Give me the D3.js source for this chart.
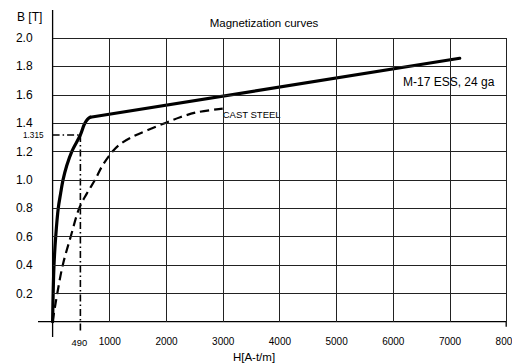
<!DOCTYPE html>
<html>
<head>
<meta charset="utf-8">
<script src="https://cdn.jsdelivr.net/npm/d3@7"></script>
</head>
<body style="margin:0">
<div id="chart"></div>
<script>
// values
const xTicks = [1000, 2000, 3000, 4000, 5000, 6000, 7000, 8000];
const yTicks = [0.2, 0.4, 0.6, 0.8, 1.0, 1.2, 1.4, 1.6, 1.8, 2.0];

// M-17 ESS: curved part up to the knee, then straight
const essH = [0, 10, 25, 55, 100, 140, 185, 250, 340, 490, 560, 615, 665, 7180];
const essB = [0, 0.2, 0.4, 0.6, 0.8, 0.9, 1.0, 1.1, 1.2, 1.315, 1.39, 1.425, 1.44, 1.855];
const essKnee = 12;

const castH = [0, 40, 83, 180, 320, 470, 600, 750, 880, 1060, 1190, 1400, 1680, 1990, 2250, 2550, 3000];
const castB = [0, 0.1, 0.2, 0.4, 0.6, 0.8, 0.9, 1.0, 1.1, 1.2, 1.25, 1.3, 1.35, 1.4, 1.44, 1.475, 1.5];

const markH = 490;
const markB = 1.315;

const svg = d3.select("#chart").append("svg")
  .attr("width", 512)
  .attr("height", 364)
  .attr("font-family", "Liberation Sans, Arial, sans-serif");

const x = d3.scaleLinear().domain([0, 8000]).range([52.6, 506.2]);
const y = d3.scaleLinear().domain([0, 2]).range([321.7, 37.7]);

// tick labels through the axes (no tick marks)
const yAxis = svg.append("g")
  .attr("transform", `translate(${x(0)},0)`)
  .call(d3.axisLeft(y).tickValues(yTicks).tickFormat(d3.format(".1f"))
    .tickSize(0).tickPadding(20));
yAxis.select(".domain").remove();
yAxis.selectAll(".tick text").attr("font-size", 12).attr("fill", "#000")
  .attr("font-family", "Liberation Sans, Arial, sans-serif");

const xAxis = svg.append("g")
  .attr("transform", `translate(0,${y(0)})`)
  .call(d3.axisBottom(x).tickValues(xTicks).tickFormat(d3.format("d"))
    .tickSize(0).tickPadding(16));
xAxis.select(".domain").remove();
xAxis.selectAll(".tick text").attr("font-size", 10).attr("fill", "#000")
  .attr("font-family", "Liberation Sans, Arial, sans-serif");

// main axes lines
svg.append("line")
  .attr("x1", x(0)).attr("x2", x(0))
  .attr("y1", 10).attr("y2", 337)
  .attr("stroke", "black").attr("stroke-width", 1.3);
svg.append("line")
  .attr("x1", 38).attr("x2", x(8000))
  .attr("y1", y(0)).attr("y2", y(0))
  .attr("stroke", "black").attr("stroke-width", 1.3);
svg.append("line")
  .attr("x1", x(8000)).attr("x2", x(8000))
  .attr("y1", y(0)).attr("y2", y(0) + 5)
  .attr("stroke", "black").attr("stroke-width", 1.3);

// marker lines at 490 / 1.315
svg.append("line")
  .attr("x1", x(0)).attr("x2", x(markH))
  .attr("y1", y(markB)).attr("y2", y(markB))
  .attr("stroke", "black").attr("stroke-width", 1.6)
  .attr("stroke-dasharray", "7,3,1.5,3");
svg.append("line")
  .attr("x1", x(markH)).attr("x2", x(markH))
  .attr("y1", y(markB)).attr("y2", y(0) + 10)
  .attr("stroke", "black").attr("stroke-width", 1.6)
  .attr("stroke-dasharray", "7,3,1.5,3");

const smooth = d3.line()
  .x(d => x(d[0]))
  .y(d => y(d[1]))
  .curve(d3.curveCatmullRom.alpha(0.5));

const straight = d3.line()
  .x(d => x(d[0]))
  .y(d => y(d[1]));

const cast = castH.map((h, i) => [h, castB[i]]);
const ess = essH.map((h, i) => [h, essB[i]]);

svg.append("path")
  .datum(cast)
  .attr("d", smooth)
  .attr("fill", "none")
  .attr("stroke", "black")
  .attr("stroke-width", 2.2)
  .attr("stroke-dasharray", "9,5");

svg.append("path")
  .datum(ess.slice(0, essKnee + 1))
  .attr("d", smooth)
  .attr("fill", "none")
  .attr("stroke", "black")
  .attr("stroke-width", 3.2)
  .attr("stroke-linecap", "round");

svg.append("path")
  .datum(ess.slice(essKnee))
  .attr("d", straight)
  .attr("fill", "none")
  .attr("stroke", "black")
  .attr("stroke-width", 3.2)
  .attr("stroke-linecap", "round");

// texts
svg.append("text").attr("x", 17).attr("y", 20.5)
  .attr("font-size", 12).text("B [T]");

svg.append("text").attr("x", 264).attr("y", 27)
  .attr("text-anchor", "middle").attr("font-size", 11.5)
  .text("Magnetization curves");

svg.append("text").attr("x", 43.5).attr("y", y(markB) + 3)
  .attr("text-anchor", "end").attr("font-size", 8.2)
  .text(markB.toString());

svg.append("text").attr("x", x(markH) - 1).attr("y", 346)
  .attr("text-anchor", "middle").attr("font-size", 9.4)
  .text(markH.toString());

svg.append("text").attr("x", 254).attr("y", 361)
  .attr("text-anchor", "middle").attr("font-size", 11.5)
  .text("H[A-t/m]");

svg.append("text").attr("x", 403).attr("y", 86)
  .attr("font-size", 12).text("M-17 ESS, 24 ga");

svg.append("text").attr("x", x(3000)).attr("y", 118)
  .attr("font-size", 9.5).text("CAST STEEL");

// grid, drawn last on crisp pixel rows so it cannot be hidden
const grid = svg.append("g").attr("shape-rendering", "crispEdges");
yTicks.forEach(v => grid.append("line")
  .attr("x1", Math.round(x(0))).attr("x2", Math.round(x(8000)))
  .attr("y1", Math.round(y(v)) + 0.5).attr("y2", Math.round(y(v)) + 0.5)
  .attr("stroke", "#222").attr("stroke-width", 1));
xTicks.forEach(v => grid.append("line")
  .attr("x1", Math.round(x(v)) + 0.5).attr("x2", Math.round(x(v)) + 0.5)
  .attr("y1", Math.round(y(2))).attr("y2", Math.round(y(0)))
  .attr("stroke", "#222").attr("stroke-width", 1));
</script>
</body>
</html>
